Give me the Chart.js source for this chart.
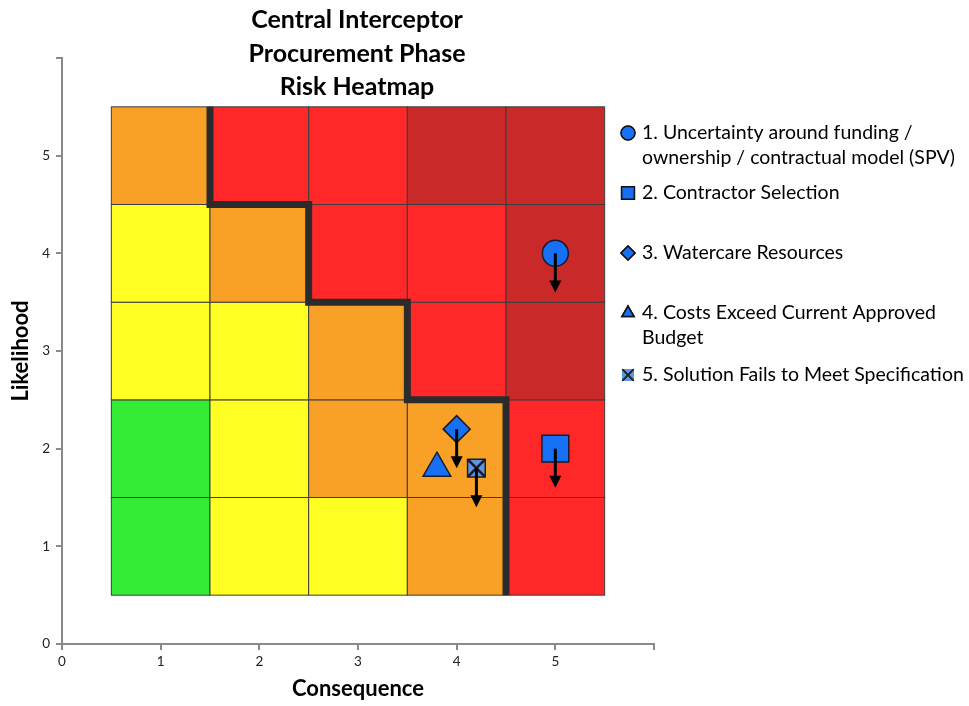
<!DOCTYPE html>
<html>
<head>
<meta charset="utf-8">
<script src="https://cdn.jsdelivr.net/npm/chart.js@4.4.0/dist/chart.umd.min.js"></script>
<style>
  html, body { margin: 0; padding: 0; background: #fff; }
  #wrap { width: 969px; height: 706px; position: relative; }
</style>
</head>
<body>
<div id="wrap"><canvas id="c" width="969" height="706"></canvas></div>
<script>
// heatmap cells: rows = likelihood 1..5, cols = consequence 1..5
const heatRows = [
  ['G', 'Y', 'Y', 'O', 'R'],
  ['G', 'Y', 'O', 'O', 'R'],
  ['Y', 'Y', 'O', 'R', 'D'],
  ['Y', 'O', 'R', 'R', 'D'],
  ['O', 'R', 'R', 'D', 'D']
];
const heatColors = { G: '#34EC34', Y: '#FFFF24', O: '#F9A126', R: '#FF2727', D: '#C92929' };

// risk appetite boundary (step line)
const boundaryX = [1.5, 1.5, 2.5, 2.5, 3.5, 3.5, 4.5, 4.5];
const boundaryY = [5.5, 4.5, 4.5, 3.5, 3.5, 2.5, 2.5, 0.5];

// risks
const riskNames = [
  ['1. Uncertainty around funding /', 'ownership / contractual model (SPV)'],
  ['2. Contractor Selection'],
  ['3. Watercare Resources'],
  ['4. Costs Exceed Current Approved', 'Budget'],
  ['5. Solution Fails to Meet Specification']
];
const riskX = [5, 5, 4, 3.8, 4.2];
const riskY = [4, 2, 2.2, 1.8, 1.8];
const arrowToY = [3.6, 1.6, 1.8, null, 1.4];
const riskStyles = ['circle', 'rect', 'rectRot', 'triangle', 'rect'];
const riskRadius = [13, 19, 13.5, 16, 12.5];
const riskFill = ['#1570F5', '#1570F5', '#1570F5', '#1570F5', '#5D96DE'];
const legendY = [133, 193, 253, 313, 375];

const FONT = 'Lato, "Open Sans", sans-serif';

const heatPlugin = {
  id: 'heat',
  beforeDatasetsDraw(chart) {
    const { ctx, scales: { x, y } } = chart;
    ctx.save();
    heatRows.forEach((row, r) => {
      row.forEach((k, c) => {
        const x0 = x.getPixelForValue(c + 0.5), x1 = x.getPixelForValue(c + 1.5);
        const y0 = y.getPixelForValue(r + 1.5), y1 = y.getPixelForValue(r + 0.5);
        ctx.fillStyle = heatColors[k];
        ctx.fillRect(x0, y0, x1 - x0, y1 - y0);
        ctx.strokeStyle = '#3c3c3c';
        ctx.lineWidth = 1;
        ctx.strokeRect(x0, y0, x1 - x0, y1 - y0);
      });
    });
    ctx.restore();
  },
  afterDatasetsDraw(chart) {
    const { ctx, scales: { x, y } } = chart;
    ctx.save();
    ctx.strokeStyle = '#000';
    ctx.fillStyle = '#000';
    ctx.lineWidth = 3;
    riskX.forEach((v, i) => {
      if (arrowToY[i] == null) return;
      const px = x.getPixelForValue(v);
      const py0 = y.getPixelForValue(riskY[i]);
      const py1 = y.getPixelForValue(arrowToY[i]);
      ctx.beginPath();
      ctx.moveTo(px, py0);
      ctx.lineTo(px, py1 - 10);
      ctx.stroke();
      ctx.beginPath();
      ctx.moveTo(px - 6, py1 - 12);
      ctx.lineTo(px + 6, py1 - 12);
      ctx.lineTo(px, py1);
      ctx.closePath();
      ctx.fill();
    });
    ctx.restore();
  },
  afterDraw(chart) {
    const { ctx } = chart;
    ctx.save();
    // title
    ctx.fillStyle = '#000';
    ctx.textAlign = 'center';
    ctx.textBaseline = 'middle';
    ctx.font = 'bold 25px ' + FONT;
    ['Central Interceptor', 'Procurement Phase', 'Risk Heatmap'].forEach((t, i) => {
      ctx.fillText(t, 357, 20 + i * 33.5);
    });
    // legend
    ctx.textAlign = 'left';
    ctx.font = '19.5px ' + FONT;
    riskNames.forEach((lines, i) => {
      const cy = legendY[i];
      Chart.helpers.drawPoint(ctx, {
        pointStyle: riskStyles[i], radius: i === 1 ? 9 : 7, borderWidth: 1.5, rotation: 0
      }, 628, cy);
      ctx.fillStyle = riskFill[i];
      ctx.strokeStyle = '#111';
      ctx.lineWidth = 1.5;
      ctx.fill();
      ctx.stroke();
      if (i === 4) {
        ctx.fillStyle = riskFill[i];
        ctx.fillRect(622, cy - 6, 12, 12);
        Chart.helpers.drawPoint(ctx, { pointStyle: 'crossRot', radius: 8, borderWidth: 1.5, rotation: 0 }, 628, cy);
        ctx.strokeStyle = '#222';
        ctx.stroke();
      }
      ctx.fillStyle = '#000';
      lines.forEach((t, j) => ctx.fillText(t, 642, cy + j * 25));
    });
    ctx.restore();
  }
};

const markerSets = riskX.map((v, i) => ({
  label: riskNames[i].join(' '),
  data: [{ x: v, y: riskY[i] }],
  pointStyle: riskStyles[i],
  pointRadius: riskRadius[i],
  pointBackgroundColor: riskFill[i],
  pointBorderColor: '#1a1a2a',
  pointBorderWidth: 1.5,
  order: 2
}));

const crossSet = {
  label: 'x',
  data: [{ x: riskX[4], y: riskY[4] }],
  pointStyle: 'crossRot',
  pointRadius: 12,
  pointBorderColor: '#1a1a2a',
  pointBorderWidth: 2.5,
  order: 1
};

const boundarySet = {
  label: 'boundary',
  type: 'line',
  data: boundaryX.map((v, i) => ({ x: v, y: boundaryY[i] })),
  borderColor: '#2b2b2b',
  borderWidth: 7,
  borderJoinStyle: 'miter',
  borderCapStyle: 'butt',
  pointRadius: 0,
  showLine: true,
  tension: 0,
  order: 10
};

new Chart(document.getElementById('c'), {
  type: 'scatter',
  data: { datasets: [...markerSets, crossSet, boundarySet] },
  plugins: [heatPlugin],
  options: {
    responsive: false,
    animation: false,
    layout: { padding: { top: 58, right: 315, left: 0, bottom: 0 } },
    plugins: { legend: { display: false }, tooltip: { enabled: false } },
    scales: {
      x: {
        type: 'linear', min: 0, max: 6,
        afterFit(s) { s.height = 62; },
        ticks: { stepSize: 1, color: '#222', font: { family: FONT, size: 13.5 }, padding: 4,
          callback: v => v === 6 ? '' : v },
        grid: { drawOnChartArea: false, drawTicks: true, tickLength: 6, color: '#8a8a8a', lineWidth: 2 },
        border: { color: '#8a8a8a', width: 2 },
        title: { display: true, text: 'Consequence', color: '#000',
          font: { family: FONT, size: 22, weight: 'bold' }, padding: { top: 12 } }
      },
      y: {
        type: 'linear', min: 0, max: 6,
        afterFit(s) { s.width = 62; },
        ticks: { stepSize: 1, color: '#222', font: { family: FONT, size: 13.5 }, padding: 6,
          callback: v => v === 6 ? '' : v },
        grid: { drawOnChartArea: false, drawTicks: true, tickLength: 6, color: '#8a8a8a', lineWidth: 2 },
        border: { color: '#8a8a8a', width: 2 },
        title: { display: true, text: 'Likelihood', color: '#000',
          font: { family: FONT, size: 22, weight: 'bold' }, padding: { top: 8, bottom: 0 } }
      }
    }
  }
});
</script>
</body>
</html>
